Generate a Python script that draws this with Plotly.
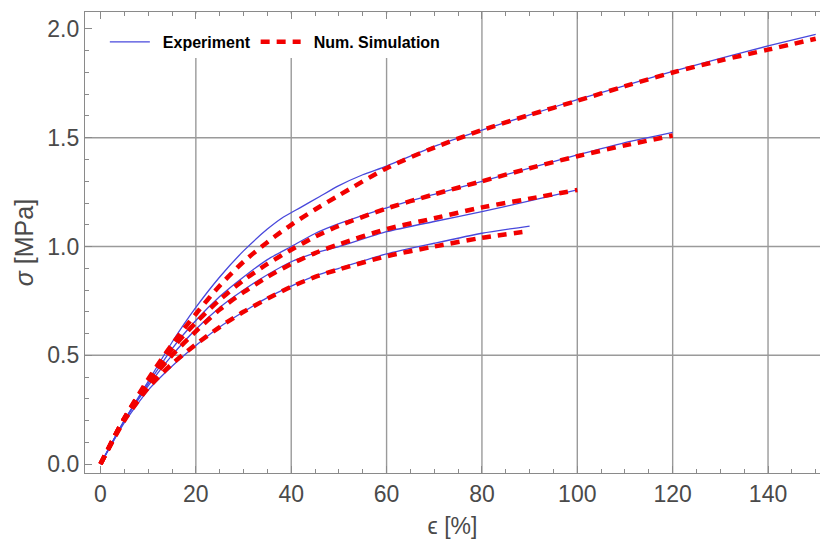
import plotly.graph_objects as go

# ---------------- data ----------------
exp1_x = [0, 5, 10, 15, 20, 25, 30, 35, 38, 42, 46, 50, 55, 60, 70, 80, 90, 100, 110, 120, 130, 140, 150]
exp1_y = [0, 0.20, 0.38, 0.56, 0.72, 0.86, 0.98, 1.08, 1.13, 1.18, 1.23, 1.28, 1.33, 1.37, 1.46, 1.535, 1.605, 1.675, 1.74, 1.805, 1.865, 1.922, 1.975]
sim1_x = [0, 5, 10, 15, 20, 25, 30, 35, 40, 45, 50, 60, 70, 80, 90, 100, 110, 120, 130, 140, 150]
sim1_y = [0, 0.21, 0.39, 0.55, 0.69, 0.82, 0.93, 1.02, 1.10, 1.17, 1.235, 1.36, 1.455, 1.535, 1.605, 1.67, 1.737, 1.80, 1.855, 1.905, 1.955]

exp2_x = [0, 5, 10, 15, 20, 25, 30, 35, 40, 45, 50, 60, 70, 80, 90, 100, 110, 120]
exp2_y = [0, 0.20, 0.37, 0.53, 0.66, 0.77, 0.86, 0.94, 1.00, 1.06, 1.105, 1.178, 1.24, 1.30, 1.36, 1.421, 1.478, 1.525]
sim2_x = [0, 5, 10, 15, 20, 25, 30, 35, 40, 45, 50, 60, 70, 80, 90, 100, 110, 120]
sim2_y = [0, 0.21, 0.38, 0.53, 0.65, 0.755, 0.845, 0.92, 0.985, 1.045, 1.095, 1.175, 1.24, 1.30, 1.36, 1.415, 1.465, 1.51]

exp3_x = [0, 5, 10, 15, 20, 25, 30, 35, 40, 45, 50, 60, 70, 80, 90, 100]
exp3_y = [0, 0.20, 0.36, 0.50, 0.62, 0.72, 0.80, 0.87, 0.93, 0.97, 1.00, 1.068, 1.115, 1.16, 1.21, 1.26]
sim3_x = [0, 5, 10, 15, 20, 25, 30, 35, 40, 45, 50, 60, 70, 80, 90, 100]
sim3_y = [0, 0.21, 0.37, 0.50, 0.61, 0.71, 0.79, 0.86, 0.92, 0.97, 1.01, 1.08, 1.13, 1.18, 1.22, 1.26]

exp4_x = [0, 5, 10, 15, 20, 25, 30, 35, 40, 45, 50, 60, 70, 80, 90]
exp4_y = [0, 0.19, 0.34, 0.45, 0.545, 0.63, 0.70, 0.765, 0.818, 0.865, 0.90, 0.966, 1.015, 1.061, 1.094]
sim4_x = [0, 5, 10, 15, 20, 25, 30, 35, 40, 45, 50, 60, 70, 80, 90]
sim4_y = [0, 0.20, 0.35, 0.46, 0.55, 0.63, 0.70, 0.76, 0.815, 0.86, 0.895, 0.955, 1.00, 1.04, 1.071]

grid_x = [20, 40, 60, 80, 100, 120, 140]
grid_y = [0.5, 1.0, 1.5]
x_range = [-3.25, 150.9]
y_range = [-0.041, 2.078]

BLUE = "#4848DC"
RED = "#F20000"

exp_sets = [(exp1_x, exp1_y), (exp2_x, exp2_y), (exp3_x, exp3_y), (exp4_x, exp4_y)]
sim_sets = [(sim1_x, sim1_y), (sim2_x, sim2_y), (sim3_x, sim3_y), (sim4_x, sim4_y)]

fig = go.Figure()
for i, (xs, ys) in enumerate(exp_sets):
    fig.add_trace(go.Scatter(x=xs, y=ys, mode="lines", name="\u2002Experiment",
                             legendgroup="exp", showlegend=(i == 0),
                             line=dict(color=BLUE, width=1.3, shape="spline", smoothing=0.6)))
for i, (xs, ys) in enumerate(sim_sets):
    fig.add_trace(go.Scatter(x=xs, y=ys, mode="lines", name="\u2002Num. Simulation",
                             legendgroup="sim", showlegend=(i == 0),
                             line=dict(color=RED, width=4.5, dash="9px,7px", shape="spline", smoothing=0.8)))

shapes = []
for gx in grid_x:
    shapes.append(dict(type="line", xref="x", yref="paper", x0=gx, x1=gx, y0=0, y1=1,
                       line=dict(color="#9a9a9a", width=1.4), layer="below"))
for gy in grid_y:
    shapes.append(dict(type="line", xref="paper", yref="y", x0=0, x1=1, y0=gy, y1=gy,
                       line=dict(color="#9a9a9a", width=1.4), layer="below"))
# white legend background box
shapes.append(dict(type="rect", xref="paper", yref="paper", x0=0.003, x1=0.50, y0=0.900, y1=0.997,
                   fillcolor="white", line=dict(width=0), layer="below"))

FONT = "Liberation Sans, Arial, sans-serif"
tickfont = dict(family=FONT, size=23, color="#4a4a4a")

fig.update_layout(
    width=820, height=548,
    margin=dict(l=85, r=0, t=12, b=75),
    paper_bgcolor="white", plot_bgcolor="white",
    shapes=shapes,
    showlegend=True,
    legend=dict(orientation="h", x=0.027, xanchor="left", y=0.935, yanchor="middle",
                bgcolor="rgba(255,255,255,0)", borderwidth=0,
                font=dict(family=FONT, size=16, color="black", weight="bold"),
                itemwidth=40, tracegroupgap=0),
    xaxis=dict(range=x_range, showgrid=False, zeroline=False,
               showline=True, linecolor="#8a8a8a", linewidth=1.3, mirror="ticks",
               ticks="inside", ticklen=7, tickcolor="#8a8a8a", tickwidth=1.2,
               tickmode="linear", tick0=0, dtick=20, tickfont=tickfont,
               minor=dict(ticks="inside", ticklen=4, tickcolor="#8a8a8a", dtick=5, tick0=0, showgrid=False),
               title=dict(text="\u03f5 [%]", font=dict(family=FONT, size=23, color="#4a4a4a"), standoff=12)),
    yaxis=dict(range=y_range, showgrid=False, zeroline=False,
               showline=True, linecolor="#8a8a8a", linewidth=1.3, mirror=False,
               ticks="inside", ticklen=7, tickcolor="#8a8a8a", tickwidth=1.2,
               tickmode="linear", tick0=0, dtick=0.5, tickformat=".1f", tickfont=tickfont,
               minor=dict(ticks="inside", ticklen=4, tickcolor="#8a8a8a", dtick=0.1, tick0=0, showgrid=False),
               title=dict(text="<i>\u03c3</i> [MPa]", font=dict(family=FONT, size=25, color="#4a4a4a"), standoff=6)),
)

fig.write_html("out.html", config={"displayModeBar": False},
               post_script="document.body.style.margin='0px';document.body.style.padding='0px';")
